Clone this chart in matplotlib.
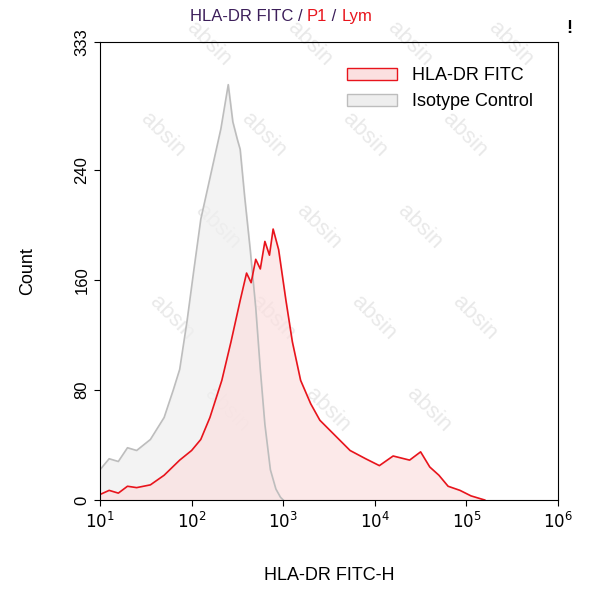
import numpy as np
import matplotlib
matplotlib.use('Agg')
import matplotlib.pyplot as plt
from matplotlib.patches import Patch

plt.rcParams['font.family'] = ['Liberation Sans', 'DejaVu Sans']

# log10 positions and counts
gray_logx = [1.0, 1.1, 1.2, 1.3, 1.4, 1.55, 1.7, 1.8, 1.87, 1.95, 2.02, 2.1, 2.17, 2.22, 2.27, 2.32, 2.37, 2.4, 2.45, 2.5, 2.53, 2.58, 2.64, 2.7, 2.75, 2.8, 2.86, 2.92, 2.97, 3.0]
gray_cnt = [22, 30, 28, 38, 36, 44, 60, 80, 95, 130, 165, 204, 225, 240, 255, 270, 290, 302, 275, 262, 255, 220, 182, 140, 95, 55, 22, 8, 2, 0]

red_logx = [1.0, 1.1, 1.2, 1.3, 1.4, 1.55, 1.7, 1.87, 2.0, 2.1, 2.2, 2.33, 2.43, 2.53, 2.6, 2.65, 2.7, 2.75, 2.8, 2.85, 2.89, 2.95, 3.03, 3.1, 3.19, 3.3, 3.4, 3.55, 3.73, 3.9, 4.05, 4.2, 4.38, 4.5, 4.6, 4.7, 4.8, 4.93, 5.05, 5.15, 5.2]
red_cnt = [4, 7, 5, 10, 9, 11, 18, 29, 36, 44, 60, 87, 115, 145, 165, 158, 175, 168, 188, 178, 197, 182, 145, 115, 87, 70, 58, 48, 36, 30, 25, 32, 29, 35, 24, 18, 10, 7, 3, 1, 0]

yticks = [0, 80, 160, 240, 333]

fig = plt.figure(figsize=(5.93, 6.0), dpi=100)
ax = fig.add_axes([100/593, 100/600, 458/593, 458/600])

gx = 10 ** np.array(gray_logx)
rx = 10 ** np.array(red_logx)
ax.fill_between(gx, gray_cnt, color='#efefef', alpha=0.7)
ax.plot(gx, gray_cnt, color='#bdbdbd', lw=1.2)
ax.fill_between(rx, red_cnt, color='#fbe0e0', alpha=0.7)
ax.plot(rx, red_cnt, color='#e8141c', lw=1.2)

ax.set_xscale('log')
ax.set_xlim(10, 1e6)
ax.set_ylim(0, 333)
ax.set_yticks(yticks)
ax.set_yticklabels([str(v) for v in yticks], rotation=90, va='center')
ax.set_xticks([10, 1e2, 1e3, 1e4, 1e5, 1e6])
ax.set_xticklabels(['$10^1$', '$10^2$', '$10^3$', '$10^4$', '$10^5$', '$10^6$'])
ax.minorticks_off()
ax.tick_params(labelsize=12, direction='out', length=4)
ax.set_xlabel('HLA-DR FITC-H', fontsize=13, labelpad=26)
ax.set_ylabel('Count', fontsize=13, labelpad=28)

# watermark, only where the word fits inside the axes
for i in range(-2, 6):
    for j in range(-1, 6):
        x0 = -0.1 + i * 0.22 + j * 0.1
        y0 = -0.05 + j * 0.2
        if 0.02 < x0 < 0.86 and 0.12 < y0 < 0.98:
            ax.text(x0, y0, 'absin', transform=ax.transAxes, fontsize=16,
                    color='#e0e0e0', rotation=-45, alpha=0.7, zorder=0)

handles = [Patch(facecolor='#fbe0e0', edgecolor='#e8141c'), Patch(facecolor='#eeeeee', edgecolor='#bdbdbd')]
ax.legend(handles, ['HLA-DR FITC', 'Isotype Control'], loc='upper right', frameon=False,
          fontsize=13, bbox_to_anchor=(0.98, 0.98), handlelength=2.8)

t1 = fig.text(0.32, 0.965, 'HLA-DR FITC / ', color='#3c1e5a', fontsize=12)
t2 = ax.annotate('P1', xy=(1, 0), xycoords=t1, color='#e8141c', fontsize=12, va='bottom')
t3 = ax.annotate(' / ', xy=(1, 0), xycoords=t2, color='#3c1e5a', fontsize=12, va='bottom')
ax.annotate('Lym', xy=(1, 0), xycoords=t3, color='#e8141c', fontsize=12, va='bottom')
fig.text(0.955, 0.945, '!', fontsize=13, fontweight='bold')

fig.savefig('out.png', dpi=100)
